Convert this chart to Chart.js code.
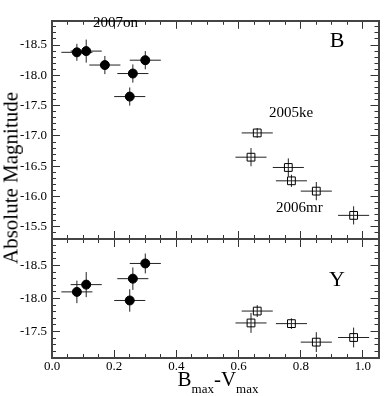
<!DOCTYPE html>
<html lang="en">
<head>
  <meta charset="UTF-8" />
  <title>Absolute Magnitude vs Bmax-Vmax</title>
  <script src="https://cdn.jsdelivr.net/npm/chart.js"></script>
  <style>
    body {
      margin: 0;
      background: #fff;
      color: #000;
      font-family: 'Liberation Serif', 'Times New Roman', serif;
    }

    .figure {
      position: relative;
      width: 385px;
      height: 396px;
      overflow: hidden;
    }

    .figure canvas {
      position: absolute;
      left: 0;
      top: 0;
    }

    .txt {
      position: absolute;
      line-height: 1;
      white-space: nowrap;
    }

    .panel-name {
      font-size: 22px;
      transform: translate(-50%, -50%);
    }

    .note {
      font-size: 15px;
      transform: translateY(-50%);
    }

    .ytitle {
      font-size: 21px;
      transform: translate(-50%, -50%) rotate(-90deg);
    }

    .xtitle {
      font-size: 21px;
      transform: translateX(-50%);
    }

    .xtitle span {
      font-size: 13px;
      position: relative;
      top: 7px;
    }
  </style>
</head>
<body>

<div class="figure">
  <canvas id="panelB" width="385" height="396"></canvas>
  <canvas id="panelY" width="385" height="396"></canvas>

  <div class="txt panel-name" style="left:337px; top:40px;">B</div>
  <div class="txt panel-name" style="left:337px; top:279px;">Y</div>

  <div class="txt note" style="left:93px; top:22px;">2007on</div>
  <div class="txt note" style="left:269px; top:112px;">2005ke</div>
  <div class="txt note" style="left:276px; top:207px;">2006mr</div>

  <div class="txt ytitle" style="left:11px; top:178px;">Absolute Magnitude</div>
  <div class="txt xtitle" style="left:218px; top:369px;">B<span>max</span>-V<span>max</span></div>
</div>

<script>
  // ---- data ----
  // SN 2007on (filled circles), B band
  const onBx    = [0.08, 0.11, 0.17, 0.26, 0.30, 0.25];
  const onBxErr = [0.05, 0.05, 0.05, 0.05, 0.05, 0.05];
  const onB     = [-18.38, -18.40, -18.17, -18.03, -18.25, -17.65];
  const onBErr  = [0.14, 0.19, 0.15, 0.15, 0.15, 0.15];

  // SN 2005ke / 2006mr (open squares), B band
  const sqBx    = [0.66, 0.64, 0.76, 0.77, 0.85, 0.97];
  const sqBxErr = [0.05, 0.05, 0.05, 0.05, 0.05, 0.05];
  const sqB     = [-17.05, -16.65, -16.48, -16.26, -16.09, -15.69];
  const sqBErr  = [0.08, 0.15, 0.15, 0.10, 0.15, 0.15];

  // SN 2007on, Y band
  const onYx    = [0.08, 0.11, 0.25, 0.26, 0.30];
  const onYxErr = [0.05, 0.05, 0.05, 0.05, 0.05];
  const onY     = [-18.10, -18.21, -17.97, -18.30, -18.53];
  const onYErr  = [0.17, 0.19, 0.17, 0.17, 0.15];

  // SN 2005ke / 2006mr, Y band
  const sqYx    = [0.66, 0.64, 0.77, 0.85, 0.97];
  const sqYxErr = [0.05, 0.05, 0.05, 0.05, 0.05];
  const sqY     = [-17.81, -17.63, -17.62, -17.34, -17.41];
  const sqYErr  = [0.09, 0.15, 0.08, 0.15, 0.15];

  // axis ranges and tick steps
  const xRange = [0, 1.05];
  const bRange = [-18.9, -15.3];
  const yRange = [-18.9, -17.1];
  const xMajor = 0.2, xMinor = 0.05;
  const magMajor = 0.5, magMinor = 0.1;

  const SERIF = "'Liberation Serif', 'Times New Roman', serif";
  const INK = '#000';
  const FRAME = '#444';
  const TICK = '#333';

  function pts(xs, ys) {
    return xs.map((x, i) => ({ x: x, y: ys[i] }));
  }

  // error bars, drawn under the markers
  const errorBars = {
    id: 'errorBars',
    beforeDatasetsDraw(chart) {
      const { ctx, chartArea: a } = chart;
      const sx = chart.scales.x, sy = chart.scales.y;
      ctx.save();
      ctx.beginPath();
      ctx.rect(a.left, a.top, a.right - a.left, a.bottom - a.top);
      ctx.clip();
      ctx.strokeStyle = '#222';
      ctx.lineWidth = 1;
      chart.data.datasets.forEach(ds => {
        ds.data.forEach((p, i) => {
          const px = sx.getPixelForValue(p.x);
          const py = sy.getPixelForValue(p.y);
          ctx.beginPath();
          ctx.moveTo(sx.getPixelForValue(p.x - ds.xErr[i]), py);
          ctx.lineTo(sx.getPixelForValue(p.x + ds.xErr[i]), py);
          ctx.moveTo(px, sy.getPixelForValue(p.y - ds.yErr[i]));
          ctx.lineTo(px, sy.getPixelForValue(p.y + ds.yErr[i]));
          ctx.stroke();
        });
      });
      ctx.restore();
    }
  };

  // one edge of the frame: inward ticks, optional labels
  function edge(axis, position, range, step, len, size, labels, pad) {
    const major = len > 5;
    return {
      type: 'linear',
      axis: axis,
      position: position,
      min: range[0],
      max: range[1],
      reverse: axis === 'y',
      weight: major ? 1 : 0,
      grid: {
        drawOnChartArea: false,
        drawTicks: true,
        tickLength: -len,
        tickColor: TICK,
        tickWidth: 1
      },
      border: { display: major, color: FRAME, width: 2 },
      ticks: {
        display: !!labels,
        stepSize: step,
        includeBounds: false,
        autoSkip: false,
        maxRotation: 0,
        minRotation: 0,
        padding: pad || 0,
        color: INK,
        font: { family: SERIF, size: 13 },
        callback: v => v.toFixed(1)
      },
      afterFit: s => {
        if (s.isHorizontal()) s.height = size; else s.width = size;
      }
    };
  }

  function panel(id, datasets, magRange, padding, xLabels) {
    return new Chart(document.getElementById(id), {
      type: 'scatter',
      data: { datasets: datasets },
      options: {
        responsive: false,
        animation: false,
        events: [],
        layout: { padding: padding },
        plugins: { legend: { display: false }, tooltip: { enabled: false } },
        scales: {
          x:   edge('x', 'bottom', xRange, xMajor, 8, xLabels ? 38 : 0, xLabels, 9),
          xm:  edge('x', 'bottom', xRange, xMinor, 4, 0),
          xt:  edge('x', 'top', xRange, xMajor, 8, 0),
          xtm: edge('x', 'top', xRange, xMinor, 4, 0),
          y:   edge('y', 'left', magRange, magMajor, 8, 52, true, 13),
          ym:  edge('y', 'left', magRange, magMinor, 4, 0),
          yr:  edge('y', 'right', magRange, magMajor, 8, 0),
          yrm: edge('y', 'right', magRange, magMinor, 4, 0)
        }
      },
      plugins: [errorBars]
    });
  }

  function circles(xs, xe, ys, ye) {
    return {
      data: pts(xs, ys), xErr: xe, yErr: ye,
      pointStyle: 'circle', pointRadius: 4.5,
      backgroundColor: INK, borderColor: INK, borderWidth: 1
    };
  }

  function squares(xs, xe, ys, ye) {
    return {
      data: pts(xs, ys), xErr: xe, yErr: ye,
      pointStyle: 'rect', pointRadius: 5.5,
      backgroundColor: 'rgba(0,0,0,0)', borderColor: INK, borderWidth: 1
    };
  }

  function drawAll() {
    // top panel: B band
    panel('panelB', [
      circles(onBx, onBxErr, onB, onBErr),
      squares(sqBx, sqBxErr, sqB, sqBErr)
    ], bRange, { left: 0, top: 1, right: 2, bottom: 157 }, false);

    // bottom panel: Y band
    panel('panelY', [
      circles(onYx, onYxErr, onY, onYErr),
      squares(sqYx, sqYxErr, sqY, sqYErr)
    ], yRange, { left: 0, top: 239, right: 2, bottom: 0 }, true);
  }

  // make sure the serif face is ready before the canvas text is drawn
  document.fonts.load("13px 'Liberation Serif'").then(drawAll, drawAll);
</script>

</body>
</html>
